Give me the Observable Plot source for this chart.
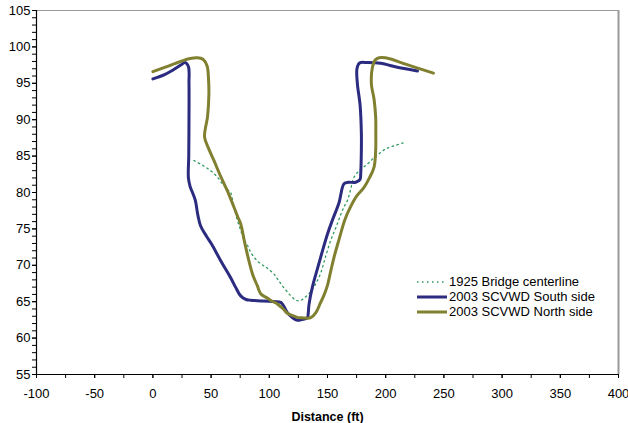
<!DOCTYPE html>
<html>
<head>
<meta charset="utf-8">
<script src="https://cdn.jsdelivr.net/npm/d3@7"></script>
<script src="https://cdn.jsdelivr.net/npm/@observablehq/plot@0.6"></script>
<style>
  body { margin: 0; background: #fff; }
  #wrap { position: relative; width: 628px; height: 423px; font-family: "Liberation Sans", Arial, sans-serif; }
  #wrap svg g[aria-label="x-axis label"] text { font-weight: bold; font-size: 12.5px; }
  #legend { position: absolute; left: 417px; top: 274px; font-size: 13px; color: #000; }
  #legend .row { display: flex; align-items: center; height: 15px; white-space: nowrap; }
  #legend svg { margin-right: 2px; }
</style>
</head>
<body>
<div id="wrap"></div>
<script>
// 1925 Bridge centerline
const bridge1925X = [35.2,42,49.6,55,59.7,64,66.8,68,69.6,72,75.4,78,81.1,84,89.7,95.4,98.3,104,108,112.6,118,122,125.5,130,135.6,140,144.1,148,152.7,157,161,164,167.1,170,172.8,178,184.3,190,195.7,200,207,214.9];
const bridge1925Y = [84.4,83.8,83.0,82.2,81.2,80.4,80.0,79.3,78.2,76.5,74.8,73.6,72.8,71.8,70.6,69.9,69.6,68.8,67.9,66.9,65.9,65.3,65.1,65.5,66.4,67.5,68.9,71,73.4,75.1,76.8,78,78.9,80.5,82.1,83.1,83.9,84.8,85.5,86,86.4,86.8];
// 2003 SCVWD South side
const southX = [0,10,17,24,27.5,30.5,31,31,30.8,30.5,32,34,36.5,38.5,41,46,50.5,58,66.8,71,75.4,80,84,95,109.8,112,115.5,120,124.1,128,132.7,133.5,134.1,137,141.3,144.1,150,154.2,159.9,164.2,168,174.2,178,178.5,179,179.1,178,175.7,175.3,177.5,184.3,195.7,210,227.3];
const southY = [95.6,96.2,96.8,97.5,97.85,97.3,95,90,85,82,80.8,80,78.9,77,75.4,74,72.9,70.7,68.3,67,65.8,65.3,65.2,65.1,64.9,64.5,63.5,62.8,62.45,62.55,62.8,63.5,64.6,67,69.5,71.1,74.3,76.2,78.6,81.2,81.4,81.4,81.8,82.5,85,88,92,94.9,97,97.8,97.85,97.75,97.2,96.7];
// 2003 SCVWD North side
const northX = [0,12,23.8,32,38.2,43,46.5,47.8,48.1,47,44.4,48,52.4,58,63.9,69.6,73,75.4,79,82.5,86,89.7,92.6,98.3,102,106.9,112,115.5,118.4,124.1,127,131,135.6,140,144.1,147,149.9,152.5,155.6,160,165,170,175,181.4,186,190,191.4,191.5,191.4,190,187.7,188.6,191,194.3,204.3,212,221.5,241];
const northY = [96.6,97.3,98.0,98.4,98.5,98.3,97.4,95.5,93.5,90.5,87.6,86,84.4,82.3,80.25,78.0,76.6,75.7,73,70.6,68.6,67.2,66.1,65.5,65.1,64.7,64.0,63.4,63.2,62.85,62.8,62.75,62.8,63.5,64.9,65.9,67.2,69,71.1,73.6,76.3,78.1,79.5,80.7,82,83.5,85.8,88,90.3,92.8,94.9,97.2,98.2,98.5,98.35,97.9,97.4,96.4];

const seriesNames = ["1925 Bridge centerline", "2003 SCVWD South side", "2003 SCVWD North side"];
const seriesColors = ["#2e9a5e", "#2b2b80", "#808030"];

const xTicksMajor = d3.range(-100, 401, 50);
const xTicksMinor = d3.range(-100, 401, 25);
const yTicksMajor = d3.range(55, 106, 5);
const yTicksMinor = d3.range(55, 106, 1);

const toPts = (xs, ys) => xs.map((x, i) => ({x, y: ys[i]}));
const bridge = toPts(bridge1925X, bridge1925Y);
const south = toPts(southX, southY);
const north = toPts(northX, northY);

const fmt = d => String(d);

const plot = Plot.plot({
  width: 628,
  height: 423,
  marginLeft: 36,
  marginTop: 10,
  marginRight: 10,
  marginBottom: 49,
  style: { fontFamily: "'Liberation Sans', Arial, sans-serif", fontSize: "13px", color: "#000", background: "#fff" },
  x: { domain: [-100, 400] },
  y: { domain: [55, 105] },
  marks: [
    Plot.ruleY([105], { stroke: "#999", strokeWidth: 1 }),
    Plot.ruleX([400], { stroke: "#999", strokeWidth: 2 }),
    Plot.axisY({ ticks: yTicksMinor, tickSize: 4, text: null, label: null, stroke: "#000" }),
    Plot.axisY({ ticks: yTicksMajor, tickSize: 4, tickPadding: 2, tickFormat: fmt, label: null, stroke: "#000" }),
    Plot.axisX({ ticks: xTicksMinor, tickSize: 4, text: null, label: null, stroke: "#000" }),
    Plot.axisX({ ticks: xTicksMajor, tickSize: 4, tickPadding: 10, tickFormat: fmt, label: "Distance (ft)", labelAnchor: "center", labelArrow: "none", labelOffset: 46, stroke: "#000" }),
    Plot.ruleX([-100], { stroke: "#000", strokeWidth: 1.2 }),
    Plot.ruleY([55], { stroke: "#000", strokeWidth: 1.2 }),
    Plot.line(bridge, { x: "x", y: "y", stroke: seriesColors[0], strokeWidth: 1.3, strokeDasharray: "1.5,3.5", curve: "catmull-rom" }),
    Plot.line(south, { x: "x", y: "y", stroke: seriesColors[1], strokeWidth: 3, curve: "catmull-rom" }),
    Plot.line(north, { x: "x", y: "y", stroke: seriesColors[2], strokeWidth: 3, curve: "catmull-rom" })
  ]
});

const wrap = document.getElementById("wrap");
wrap.appendChild(plot);

const legend = document.createElement("div");
legend.id = "legend";
seriesNames.forEach((name, i) => {
  const row = document.createElement("div");
  row.className = "row";
  const dash = i === 0 ? 'stroke-dasharray="1.5,3.5" stroke-width="1.3"' : 'stroke-width="3"';
  row.innerHTML = `<svg width="30" height="6"><line x1="0" x2="30" y1="3" y2="3" stroke="${seriesColors[i]}" ${dash}/></svg><span>${name}</span>`;
  legend.appendChild(row);
});
wrap.appendChild(legend);
</script>
</body>
</html>
